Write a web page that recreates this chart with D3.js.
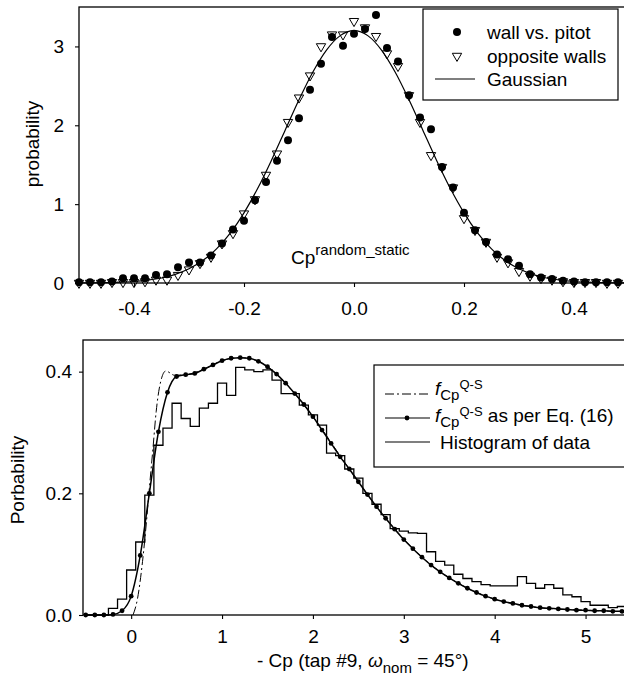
<!DOCTYPE html>
<html>
<head>
<meta charset="utf-8">
<script src="https://cdn.jsdelivr.net/npm/d3@7"></script>
<style>
body { margin: 0; background: #fff; }
text { font-family: "Liberation Sans", Arial, sans-serif; fill: #000; }
</style>
</head>
<body>
<svg id="chart" width="624" height="680"></svg>
<script>
// ---- top panel: Cp random_static ----
const cpX = [-0.50,-0.48,-0.46,-0.44,-0.42,-0.40,-0.38,-0.36,-0.34,-0.32,-0.30,-0.28,-0.26,-0.24,-0.22,-0.20,-0.18,-0.16,-0.14,-0.12,-0.10,-0.08,-0.06,-0.04,-0.02,0.00,0.02,0.04,0.06,0.08,0.10,0.12,0.14,0.16,0.18,0.20,0.22,0.24,0.26,0.28,0.30,0.32,0.34,0.36,0.38,0.40,0.42,0.44,0.46,0.48];
const wallPitot = [0.01,0.01,0.01,0.02,0.06,0.06,0.06,0.10,0.11,0.20,0.26,0.26,0.35,0.50,0.68,0.79,1.05,1.28,1.55,1.81,2.09,2.45,2.78,3.12,3.01,3.16,3.22,3.40,2.98,2.81,2.38,2.10,1.95,1.47,1.21,0.89,0.67,0.52,0.36,0.30,0.22,0.11,0.07,0.05,0.03,0.02,0.01,0.01,0.01,0.01];
const oppositeWalls = [0.00,0.00,0.00,0.01,0.01,0.01,0.02,0.04,0.04,0.10,0.17,0.25,0.33,0.50,0.63,0.88,1.06,1.37,1.64,2.04,2.35,2.63,3.00,3.15,3.15,3.32,3.24,3.13,2.91,2.75,2.38,2.04,1.62,1.47,1.21,0.82,0.67,0.52,0.33,0.26,0.15,0.09,0.06,0.04,0.02,0.01,0.01,0.01,0.00,0.00];
const gaussX = [-0.5,-0.475,-0.45,-0.425,-0.4,-0.375,-0.35,-0.325,-0.3,-0.275,-0.25,-0.225,-0.2,-0.175,-0.15,-0.125,-0.1,-0.075,-0.05,-0.025,0,0.025,0.05,0.075,0.1,0.125,0.15,0.175,0.2,0.225,0.25,0.275,0.3,0.325,0.35,0.375,0.4,0.425,0.45,0.475,0.5];
const gaussY = [0.001,0.002,0.005,0.010,0.019,0.036,0.063,0.109,0.180,0.284,0.433,0.633,0.890,1.201,1.558,1.941,2.324,2.673,2.954,3.137,3.200,3.137,2.954,2.673,2.324,1.941,1.558,1.201,0.890,0.633,0.433,0.284,0.180,0.109,0.063,0.036,0.019,0.010,0.005,0.002,0.001];
const topXTicks = [-0.4,-0.2,0.0,0.2,0.4];
const topYTicks = [0,1,2,3];

// ---- bottom panel: -Cp (tap #9) ----
const cpQS = [-0.5,-0.4,-0.3,-0.2,-0.1,0.0,0.1,0.2,0.3,0.4,0.5,0.6,0.7,0.8,0.9,1.0,1.1,1.2,1.3,1.4,1.5,1.6,1.7,1.8,1.9,2.0,2.1,2.2,2.3,2.4,2.5,2.6,2.7,2.8,2.9,3.0,3.1,3.2,3.3,3.4,3.5,3.6,3.7,3.8,3.9,4.0,4.1,4.2,4.3,4.4,4.5,4.6,4.7,4.8,4.9,5.0,5.1,5.2,5.3,5.4,5.5];
const fEq16 = [0,0,0,0.001,0.007,0.031,0.098,0.200,0.301,0.366,0.392,0.395,0.397,0.404,0.411,0.418,0.422,0.423,0.422,0.417,0.408,0.396,0.381,0.364,0.346,0.326,0.304,0.282,0.260,0.240,0.219,0.198,0.178,0.159,0.141,0.124,0.109,0.095,0.082,0.071,0.061,0.052,0.044,0.037,0.031,0.026,0.022,0.019,0.016,0.014,0.012,0.011,0.010,0.009,0.008,0.008,0.007,0.007,0.006,0.006,0.005];
const histData = [0,0,0,0.011,0.026,0.074,0.120,0.197,0.279,0.307,0.348,0.323,0.310,0.340,0.348,0.381,0.361,0.407,0.403,0.400,0.403,0.386,0.364,0.364,0.345,0.329,0.312,0.266,0.262,0.240,0.225,0.200,0.182,0.165,0.142,0.138,0.135,0.134,0.104,0.088,0.082,0.067,0.060,0.055,0.050,0.048,0.048,0.048,0.063,0.052,0.044,0.050,0.044,0.033,0.030,0.022,0.016,0.016,0.012,0.014,0.014];
const qsX = [0.02,0.07,0.125,0.165,0.2,0.24,0.275,0.31,0.38,0.48,0.6,0.8,1.0,1.2,1.4,1.6,1.8,2.0,2.4,2.8,3.2,3.6,4.0,4.5,5.0,5.5];
const qsY = [0,0.027,0.088,0.148,0.208,0.274,0.334,0.373,0.401,0.394,0.395,0.404,0.418,0.423,0.417,0.396,0.364,0.326,0.240,0.159,0.095,0.052,0.026,0.012,0.008,0.005];
const botXTicks = [0,1,2,3,4,5];
const botYTicks = [0.0,0.2,0.4];

const svg = d3.select("#chart");
svg.append("rect").attr("width", 624).attr("height", 680).attr("fill", "white");

drawTop();
drawBottom();

function styleAxis(g) {
  g.select(".domain").remove();
  g.selectAll(".tick line").attr("stroke", "#000").attr("stroke-width", 1.1);
  g.selectAll(".tick text")
    .attr("font-family", "Liberation Sans, Arial, sans-serif")
    .attr("font-size", "19px")
    .attr("fill", "#000");
}

function drawTop() {
  const x = d3.scaleLinear().domain([-0.5, 0.5]).range([79, 629]);
  const y = d3.scaleLinear().domain([0, 3.5]).range([283, 7]);
  const g = svg.append("g");

  g.append("g")
    .attr("transform", "translate(0,283)")
    .call(d3.axisBottom(x).tickValues(topXTicks).tickSize(4).tickPadding(15).tickFormat(d => d.toFixed(1)))
    .call(styleAxis);
  g.append("g")
    .attr("transform", "translate(79,0)")
    .call(d3.axisLeft(y).tickValues(topYTicks).tickSize(4).tickPadding(11).tickFormat(d3.format("d")))
    .call(styleAxis);

  // frame
  g.append("rect")
    .attr("x", 79).attr("y", 7).attr("width", 550).attr("height", 276)
    .attr("fill", "none").attr("stroke", "#000").attr("stroke-width", 1.3);

  // gaussian
  const pts = gaussX.map((v, i) => [v, gaussY[i]]);
  g.append("path")
    .attr("d", d3.line().x(d => x(d[0])).y(d => y(d[1])).curve(d3.curveMonotoneX)(pts))
    .attr("fill", "none").attr("stroke", "#000").attr("stroke-width", 1.2);

  cpX.forEach((v, i) => {
    g.append("circle")
      .attr("cx", x(v)).attr("cy", y(wallPitot[i])).attr("r", 4)
      .attr("fill", "#000");
  });
  const tri = d3.symbol(d3.symbolTriangle, 38);
  cpX.forEach((v, i) => {
    g.append("path")
      .attr("d", tri())
      .attr("transform", "translate(" + x(v) + "," + y(oppositeWalls[i]) + ") rotate(180)")
      .attr("fill", "none").attr("stroke", "#000").attr("stroke-width", 1);
  });

  // Cp^random_static label
  const lbl = g.append("text").attr("x", 291).attr("y", 264).attr("font-size", "19px");
  lbl.append("tspan").text("Cp");
  lbl.append("tspan").attr("font-size", "15px").attr("dy", -9).text("random_static");

  // y label
  g.append("text")
    .attr("transform", "translate(39,144) rotate(-90)")
    .attr("text-anchor", "middle")
    .attr("font-size", "19px")
    .text("probability");

  // legend
  g.append("rect")
    .attr("x", 423).attr("y", 9).attr("width", 195).attr("height", 91)
    .attr("fill", "white").attr("stroke", "#000").attr("stroke-width", 1.2);
  g.append("circle").attr("cx", 457).attr("cy", 32).attr("r", 4).attr("fill", "#000");
  g.append("path").attr("d", tri())
    .attr("transform", "translate(457,56) rotate(180)")
    .attr("fill", "none").attr("stroke", "#000").attr("stroke-width", 1);
  g.append("line").attr("x1", 435).attr("x2", 475).attr("y1", 79).attr("y2", 79)
    .attr("stroke", "#000").attr("stroke-width", 1.2);
  const items = ["wall vs. pitot", "opposite walls", "Gaussian"];
  items.forEach((t, i) => {
    g.append("text").attr("x", 487).attr("y", 39 + i * 23.5).attr("font-size", "19px").text(t);
  });
}

function drawBottom() {
  const x = d3.scaleLinear().domain([-0.53, 5.5]).range([83, 631]);
  const y = d3.scaleLinear().domain([0, 0.452]).range([615, 340]);
  const g = svg.append("g");

  g.append("g")
    .attr("transform", "translate(0,615)")
    .call(d3.axisBottom(x).tickValues(botXTicks).tickSize(4).tickPadding(11).tickFormat(d3.format("d")))
    .call(styleAxis);
  g.append("g")
    .attr("transform", "translate(83,0)")
    .call(d3.axisLeft(y).tickValues(botYTicks).tickSize(4).tickPadding(7).tickFormat(d3.format(".1f")))
    .call(styleAxis);

  g.append("rect")
    .attr("x", 83).attr("y", 340).attr("width", 548).attr("height", 275)
    .attr("fill", "none").attr("stroke", "#000").attr("stroke-width", 1.3);

  // histogram of data
  const hist = cpQS.map((v, i) => [v, histData[i]]);
  g.append("path")
    .attr("d", d3.line().x(d => x(d[0])).y(d => y(d[1])).curve(d3.curveStep)(hist))
    .attr("fill", "none").attr("stroke", "#000").attr("stroke-width", 1.3);

  // f_Cp Q-S (dash-dot)
  const qs = qsX.map((v, i) => [v, qsY[i]]);
  g.append("path")
    .attr("d", d3.line().x(d => x(d[0])).y(d => y(d[1])).curve(d3.curveMonotoneX)(qs))
    .attr("fill", "none").attr("stroke", "#000").attr("stroke-width", 1)
    .attr("stroke-dasharray", "9,3,2,3");

  // f_Cp Q-S as per Eq. (16)
  const eq = cpQS.map((v, i) => [v, fEq16[i]]);
  g.append("path")
    .attr("d", d3.line().x(d => x(d[0])).y(d => y(d[1])).curve(d3.curveMonotoneX)(eq))
    .attr("fill", "none").attr("stroke", "#000").attr("stroke-width", 1.5);
  eq.forEach(d => {
    g.append("circle").attr("cx", x(d[0])).attr("cy", y(d[1])).attr("r", 2.4).attr("fill", "#000");
  });

  // axis labels
  g.append("text")
    .attr("transform", "translate(24,480) rotate(-90)")
    .attr("text-anchor", "middle")
    .attr("font-size", "19px")
    .text("Porbability");
  const xl = g.append("text").attr("x", 257).attr("y", 667).attr("font-size", "19px");
  xl.append("tspan").text("- Cp (tap #9, ");
  xl.append("tspan").attr("font-style", "italic").text("\u03c9");
  xl.append("tspan").attr("font-size", "15px").attr("dy", 6).text("nom");
  xl.append("tspan").attr("dy", -6).text(" = 45\u00b0)");

  // legend
  g.append("rect")
    .attr("x", 374).attr("y", 365).attr("width", 262).attr("height", 102)
    .attr("fill", "white").attr("stroke", "#000").attr("stroke-width", 1.2);
  g.append("line").attr("x1", 385).attr("x2", 430).attr("y1", 394).attr("y2", 394)
    .attr("stroke", "#000").attr("stroke-width", 1).attr("stroke-dasharray", "9,3,2,3");
  g.append("line").attr("x1", 385).attr("x2", 430).attr("y1", 418).attr("y2", 418)
    .attr("stroke", "#000").attr("stroke-width", 1.2);
  g.append("circle").attr("cx", 407).attr("cy", 418).attr("r", 2.4).attr("fill", "#000");
  g.append("line").attr("x1", 385).attr("x2", 430).attr("y1", 442).attr("y2", 442)
    .attr("stroke", "#000").attr("stroke-width", 1.2);

  const t1 = g.append("text").attr("x", 435).attr("y", 395).attr("font-size", "19px");
  fLabel(t1);
  const t2 = g.append("text").attr("x", 435).attr("y", 422).attr("font-size", "19px");
  fLabel(t2);
  t2.append("tspan").attr("dy", 6).text(" as per Eq. (16)");
  g.append("text").attr("x", 440).attr("y", 449).attr("font-size", "19px").text("Histogram of data");
}

function fLabel(t) {
  t.append("tspan").attr("font-style", "italic").text("f");
  t.append("tspan").attr("font-size", "15px").attr("dy", 5).text("Cp");
  t.append("tspan").attr("font-size", "13px").attr("dy", -11).text("Q-S");
}
</script>
</body>
</html>
